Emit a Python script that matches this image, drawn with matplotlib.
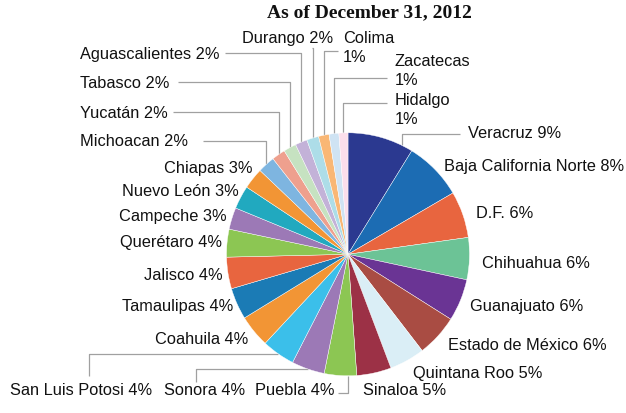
import numpy as np
import matplotlib.pyplot as plt

# Share of units by state
states = ["Veracruz", "Baja California Norte", "D.F.", "Chihuahua", "Guanajuato",
          "Estado de México", "Quintana Roo", "Sinaloa", "Puebla", "Sonora",
          "San Luis Potosi", "Coahuila", "Tamaulipas", "Jalisco", "Querétaro",
          "Campeche", "Nuevo León", "Chiapas", "Michoacan", "Yucatán",
          "Tabasco", "Aguascalientes", "Durango", "Colima", "Zacatecas", "Hidalgo"]
shares = [8.8, 7.8, 6.2, 5.6, 5.6, 5.6, 4.7, 4.6, 4.3, 4.4,
          4.4, 4.3, 4.2, 4.2, 3.7, 2.9, 3.1, 2.8, 2.3, 1.8,
          1.7, 1.6, 1.6, 1.4, 1.3, 1.2]
colors = ["#2b3990", "#1c6cb3", "#e8653f", "#6cc396", "#6a3494",
          "#a94c43", "#daeef6", "#9c3146", "#8cc653", "#9c79b6",
          "#3bbfea", "#f29535", "#1b7bb5", "#e8653f", "#8cc653",
          "#9c79b6", "#21a9bf", "#f29535", "#7eb5e0", "#eea08e",
          "#c6e2c1", "#c3b2d8", "#addde8", "#f9b775", "#cfe3f3", "#fbdeeb"]
two_line = {"Colima", "Zacatecas", "Hidalgo"}

W, H = 626, 414

# label placement in pixel coords (x, y from top, alignment)
label_pos = {
    "Veracruz": (468, 134, "left"),
    "Baja California Norte": (444, 167, "left"),
    "D.F.": (476, 214, "left"),
    "Chihuahua": (482, 263, "left"),
    "Guanajuato": (470, 307, "left"),
    "Estado de México": (448, 346, "left"),
    "Quintana Roo": (413, 374, "left"),
    "Sinaloa": (363, 391, "left"),
    "Puebla": (335, 391, "right"),
    "Sonora": (245, 391, "right"),
    "San Luis Potosi": (152, 391, "right"),
    "Coahuila": (248, 340, "right"),
    "Tamaulipas": (233, 307, "right"),
    "Jalisco": (223, 276, "right"),
    "Querétaro": (222, 243, "right"),
    "Campeche": (227, 217, "right"),
    "Nuevo León": (239, 192, "right"),
    "Chiapas": (253, 168, "right"),
    "Michoacan": (80, 142, "left"),
    "Yucatán": (80, 113, "left"),
    "Tabasco": (80, 83, "left"),
    "Aguascalientes": (80, 54, "left"),
    "Durango": (333, 38, "right"),
    "Colima": (343, 48, "left"),
    "Zacatecas": (395, 71, "left"),
    "Hidalgo": (395, 110, "left"),
}

# leader lines: start point (px), route ("hv" or "vh"), position within wedge
leaders = {
    "Veracruz": (460, 135, "hv", 0.83),
    "Hidalgo": (387, 104, "hv", 0.5),
    "Zacatecas": (387, 79, "hv", 0.5),
    "Colima": (338, 52, "hv", 0.5),
    "Durango": (312, 49, "hv", 0.5),
    "Aguascalientes": (225, 54, "hv", 0.5),
    "Tabasco": (178, 83, "hv", 0.5),
    "Yucatán": (173, 113, "hv", 0.5),
    "Michoacan": (203, 142, "hv", 0.5),
    "San Luis Potosi": (89, 377, "vh", 0.5),
    "Sonora": (196, 383, "vh", 0.5),
    "Puebla": (338, 394, "hv", 0.28),
}

fig = plt.figure(figsize=(W / 100, H / 100), dpi=100)
ax = fig.add_axes([0, 0, 1, 1])

wedges, _ = ax.pie(shares, colors=colors, startangle=90, counterclock=False,
                   center=(348, H - 255.3), radius=121.5,
                   wedgeprops=dict(edgecolor="white", linewidth=0.3, zorder=3))
ax.set_xlim(0, W)
ax.set_ylim(0, H)
ax.axis("off")

font = dict(family=["Liberation Sans", "DejaVu Sans"], fontsize=11.8, color="#111111")

for name, share, w in zip(states, shares, wedges):
    pct = "{}%".format(int(round(share)))
    text = name + ("\n" if name in two_line else " ") + pct
    x, y, ha = label_pos[name]
    ax.text(x, H - y, text, ha=ha, va="center", linespacing=1.3, **font)

    if name in leaders:
        sx, sy, route, frac = leaders[name]
        # clockwise wedges: theta2 is the start, theta1 the end
        ang = np.deg2rad(w.theta2 - frac * (w.theta2 - w.theta1))
        px = w.center[0] + w.r * np.cos(ang)
        py = w.center[1] + w.r * np.sin(ang)
        sy = H - sy
        if route == "hv":
            xs, ys = [sx, px, px], [sy, sy, py]
        else:
            xs, ys = [sx, sx, px], [sy, py, py]
        ax.plot(xs, ys, color="#a0a0a0", lw=0.9, zorder=1, solid_capstyle="butt")

ax.text(369.5, H - 13, "As of December 31, 2012", ha="center", va="center",
        family=["Liberation Serif", "DejaVu Serif"], fontweight="bold",
        fontsize=14, color="#111111")

fig.savefig("out.png", dpi=100)
plt.close(fig)
